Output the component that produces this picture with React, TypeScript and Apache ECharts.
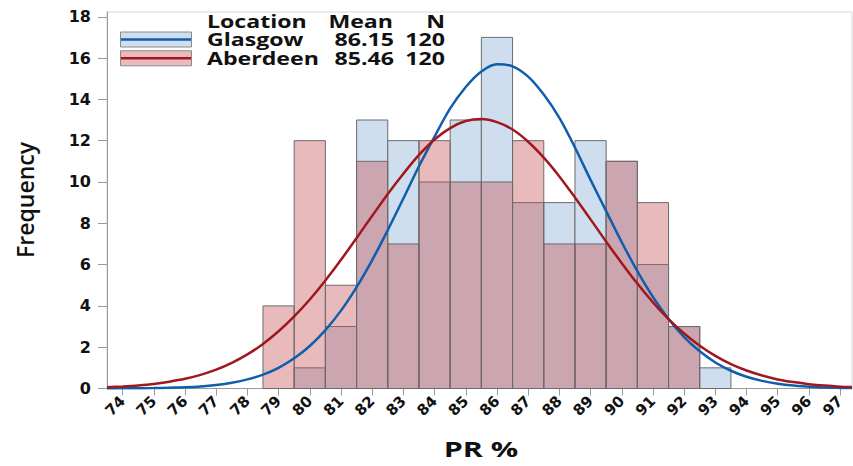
import React, { useEffect, useRef } from "react";
import * as echarts from "echarts";

// Histogram bins (PR %) and counts
const BINS = [79, 80, 81, 82, 83, 84, 85, 86, 87, 88, 89, 90, 91, 92, 93];
const GLASGOW = [0, 1, 3, 13, 12, 10, 13, 17, 9, 9, 12, 11, 6, 3, 1];
const ABERDEEN = [4, 12, 5, 11, 7, 12, 10, 10, 12, 7, 7, 11, 9, 3, 0];

// Fitted-curve points (every half unit)
const CURVE_X = [
  73.5, 74, 74.5, 75, 75.5, 76, 76.5, 77, 77.5, 78, 78.5, 79, 79.5, 80, 80.5, 81, 81.5, 82, 82.5,
  83, 83.5, 84, 84.5, 85, 85.5, 86, 86.5, 87, 87.5, 88, 88.5, 89, 89.5, 90, 90.5, 91, 91.5, 92,
  92.5, 93, 93.5, 94, 94.5, 95, 95.5, 96, 96.5, 97, 97.38,
];
const GLASGOW_FIT = [
  0, 0.01, 0.01, 0.02, 0.04, 0.06, 0.1, 0.17, 0.28, 0.44, 0.67, 1.0, 1.46, 2.06, 2.83, 3.77, 4.91,
  6.22, 7.67, 9.2, 10.76, 12.2, 13.56, 14.6, 15.35, 15.7, 15.6, 15.1, 14.23, 13.1, 11.67, 10.1,
  8.59, 7.08, 5.68, 4.43, 3.37, 2.49, 1.8, 1.26, 0.86, 0.57, 0.37, 0.23, 0.14, 0.09, 0.05, 0.03, 0.02,
];
const ABERDEEN_FIT = [
  0.06, 0.1, 0.15, 0.22, 0.33, 0.47, 0.66, 0.91, 1.24, 1.65, 2.16, 2.77, 3.49, 4.31, 5.23, 6.23,
  7.29, 8.36, 9.42, 10.4, 11.31, 12.06, 12.61, 12.95, 13.05, 12.9, 12.54, 11.95, 11.18, 10.27, 9.25,
  8.19, 7.11, 6.07, 5.08, 4.17, 3.36, 2.66, 2.07, 1.58, 1.18, 0.87, 0.63, 0.44, 0.31, 0.21, 0.14,
  0.09, 0.07,
];

// Axis ticks
const X_TICKS = [74, 75, 76, 77, 78, 79, 80, 81, 82, 83, 84, 85, 86, 87, 88, 89, 90, 91, 92, 93, 94, 95, 96, 97];
const Y_TICKS = [0, 2, 4, 6, 8, 10, 12, 14, 16, 18];

// Legend table
const LEGEND_HEADER = ["Location", "Mean", "N"];
const LOCATIONS = ["Glasgow", "Aberdeen"];
const MEANS = ["86.15", "85.46"];
const COUNTS = ["120", "120"];

const BLUE_FILL = "#cfdeee";
const PINK_FILL = "rgba(198,77,82,0.39)";
const PINK_SWATCH = "#e9bbbc";
const BLUE_LINE = "#0f5eac";
const RED_LINE = "#a0181e";
const BAR_STROKE = "#6b6b6b";
const AXIS_COLOR = "#9a9a9a";
const TEXT = "#111111";

function barSeries(name: string, values: number[], fill: string, z: number) {
  return {
    type: "custom",
    name,
    z,
    data: BINS.map((b, i) => [b, values[i]]),
    encode: { x: 0, y: 1 },
    renderItem: (params: any, api: any) => {
      const x = api.value(0);
      const y = api.value(1);
      if (!y) return null;
      const p0 = api.coord([x - 0.5, y]);
      const p1 = api.coord([x + 0.5, 0]);
      return {
        type: "rect",
        shape: { x: p0[0], y: p0[1], width: p1[0] - p0[0], height: p1[1] - p0[1] },
        style: { fill, stroke: BAR_STROKE, lineWidth: 1 },
      };
    },
  };
}

function txt(text: string, x: number, y: number, align: string, opts: any = {}) {
  return {
    type: "text",
    x,
    y,
    scaleX: opts.scaleX ?? 1.36,
    rotation: opts.rotation ?? 0,
    silent: true,
    style: {
      text,
      fill: TEXT,
      font: opts.font ?? "bold 17px 'Open Sans'",
      textAlign: align,
      align,
      textVerticalAlign: "middle",
      verticalAlign: "middle",
    },
  };
}

export default function App() {
  const ref = useRef<HTMLDivElement>(null);
  useEffect(() => {
    const chart = echarts.init(ref.current!, null, { renderer: "svg" });
    const rowY = [39.5, 58.3];
    const graphic: any[] = [
      txt(LEGEND_HEADER[0], 207, 21, "left"),
      txt(LEGEND_HEADER[1], 393, 21, "right"),
      txt(LEGEND_HEADER[2], 445, 21, "right"),
    ];
    const swatchFill = [BLUE_FILL, PINK_SWATCH];
    const swatchLine = [BLUE_LINE, RED_LINE];
    LOCATIONS.forEach((loc, i) => {
      const y = rowY[i];
      graphic.push({
        type: "rect",
        silent: true,
        shape: { x: 120.5, y: y - 7.5, width: 71, height: 15 },
        style: { fill: swatchFill[i], stroke: "#8a8a8a", lineWidth: 1 },
      });
      graphic.push({
        type: "line",
        silent: true,
        shape: { x1: 121, y1: y, x2: 191, y2: y },
        style: { stroke: swatchLine[i], lineWidth: 2.5 },
      });
      graphic.push(txt(loc, 207, y, "left"));
      graphic.push(txt(MEANS[i], 394, y, "right"));
      graphic.push(txt(COUNTS[i], 445, y, "right"));
    });
    graphic.push(
      txt("Frequency", 25, 200, "center", {
        rotation: Math.PI / 2,
        scaleX: 1.0,
        font: "600 23px 'Open Sans'",
      })
    );
    graphic.push(txt("PR %", 481, 449, "center", { scaleX: 1.45, font: "bold 21px 'Open Sans'" }));

    chart.setOption({
      animation: false,
      backgroundColor: "#ffffff",
      grid: {
        show: true,
        left: 107,
        top: 12,
        width: 745,
        height: 376.5,
        borderColor: "#d6d6d6",
        borderWidth: 1,
        backgroundColor: "transparent",
      },
      xAxis: {
        type: "value",
        min: 73.5,
        max: 97.38,
        axisLine: { show: true, lineStyle: { color: AXIS_COLOR, width: 1 } },
        axisTick: {
          show: true,
          length: 7,
          customValues: X_TICKS,
          lineStyle: { color: AXIS_COLOR },
        },
        axisLabel: {
          customValues: X_TICKS,
          rotate: 45,
          margin: 10,
          fontSize: 15,
          fontWeight: "bold",
          fontFamily: "DejaVu Sans",
          color: TEXT,
        },
        splitLine: { show: false },
      },
      yAxis: {
        type: "value",
        min: 0,
        max: 18.23,
        axisLine: { show: true, lineStyle: { color: AXIS_COLOR, width: 1 } },
        axisTick: {
          show: true,
          length: 9,
          customValues: Y_TICKS,
          lineStyle: { color: AXIS_COLOR },
        },
        axisLabel: {
          customValues: Y_TICKS,
          margin: 16,
          fontSize: 16,
          fontWeight: "bold",
          fontFamily: "DejaVu Sans",
          color: TEXT,
        },
        splitLine: { show: false },
      },
      series: [
        barSeries("Glasgow", GLASGOW, BLUE_FILL, 1),
        barSeries("Aberdeen", ABERDEEN, PINK_FILL, 2),
        {
          type: "line",
          name: "Glasgow fit",
          z: 3,
          smooth: 0.3,
          showSymbol: false,
          symbol: "none",
          data: CURVE_X.map((x, i) => [x, GLASGOW_FIT[i]]),
          lineStyle: { color: BLUE_LINE, width: 2.5 },
        },
        {
          type: "line",
          name: "Aberdeen fit",
          z: 4,
          smooth: 0.3,
          showSymbol: false,
          symbol: "none",
          data: CURVE_X.map((x, i) => [x, ABERDEEN_FIT[i]]),
          lineStyle: { color: RED_LINE, width: 2.5 },
        },
      ],
      graphic,
    });
    return () => chart.dispose();
  }, []);
  return (
    <div
      ref={ref}
      style={{ position: "absolute", left: 0, top: 0, width: 853, height: 466 }}
    />
  );
}
